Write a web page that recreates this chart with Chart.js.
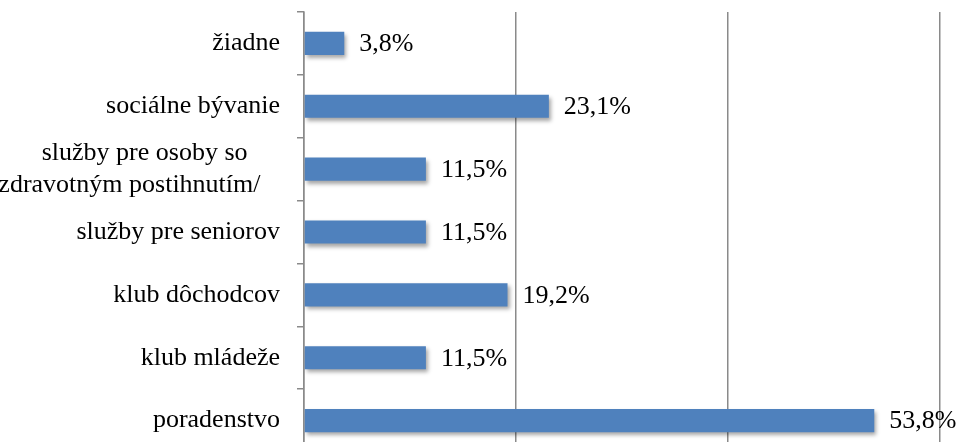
<!DOCTYPE html>
<html>
<head>
<meta charset="utf-8">
<script src="https://cdn.jsdelivr.net/npm/chart.js@4/dist/chart.umd.min.js"></script>
<style>
  html, body { margin: 0; padding: 0; background: #fff; overflow: hidden; }
  #wrap { width: 959px; height: 464px; }
</style>
</head>
<body>
<div id="wrap"><canvas id="servicesChart" width="959" height="464"></canvas></div>
<script>
'use strict';

// trailing spaces on the wrapped label mimic its centred look in the original
const categories = [
    'žiadne',
    'sociálne bývanie',
    ['služby pre osoby so     ', 'zdravotným postihnutím/   '],
    'služby pre seniorov',
    'klub dôchodcov',
    'klub mládeže',
    'poradenstvo'
];
const shares = [3.8, 23.1, 11.5, 11.5, 19.2, 11.5, 53.8];
const axisTicks = [0, 20, 40, 60];

const serif = "'Liberation Serif', 'Times New Roman', serif";

const barShadow = {
    id: 'barShadow',
    beforeDatasetDraw(chart) {
        const c = chart.ctx;
        c.save();
        c.shadowColor = 'rgba(0,0,0,0.35)';
        c.shadowOffsetX = 2;
        c.shadowOffsetY = 3;
        c.shadowBlur = 4;
    },
    afterDatasetDraw(chart) {
        chart.ctx.restore();
    }
};

const valueLabels = {
    id: 'valueLabels',
    afterDatasetsDraw(chart) {
        const c = chart.ctx;
        const meta = chart.getDatasetMeta(0);
        c.save();
        c.font = '26px ' + serif;
        c.fillStyle = '#000';
        c.textAlign = 'left';
        c.textBaseline = 'middle';
        meta.data.forEach((bar, i) => {
            const txt = shares[i].toFixed(1).replace('.', ',') + '%';
            c.fillText(txt, bar.x + 15, bar.y + 1);
        });
        c.restore();
    }
};

new Chart(document.getElementById('servicesChart'), {
    type: 'bar',
    data: {
        labels: categories,
        datasets: [{
            data: shares,
            backgroundColor: '#4f81bd',
            borderWidth: 0,
            barPercentage: 0.55,
            categoryPercentage: 0.67
        }]
    },
    options: {
        indexAxis: 'y',
        responsive: false,
        animation: false,
        events: [],
        layout: { padding: { left: 0, right: 19, top: 12, bottom: 12 } },
        plugins: {
            legend: { display: false },
            tooltip: { enabled: false }
        },
        scales: {
            x: {
                min: axisTicks[0],
                max: axisTicks[axisTicks.length - 1],
                afterBuildTicks: s => { s.ticks = axisTicks.map(v => ({ value: v })); },
                afterFit: s => { s.height = 0; s.paddingLeft = 0; s.paddingRight = 0; },
                ticks: { display: false },
                border: { display: false },
                grid: { color: '#8a8a8a', lineWidth: 1.5, drawTicks: false }
            },
            y: {
                afterFit: s => { s.width = 304; s.paddingTop = 0; s.paddingBottom = 0; },
                border: { display: true, color: '#8a8a8a', width: 1.5 },
                grid: { drawOnChartArea: false, drawTicks: true, tickLength: 7, color: '#8a8a8a', lineWidth: 1.5 },
                ticks: {
                    autoSkip: false,
                    padding: 17,
                    color: '#000',
                    font: { family: serif, size: 26, lineHeight: 1.25 }
                }
            }
        }
    },
    plugins: [barShadow, valueLabels]
});
</script>
</body>
</html>
